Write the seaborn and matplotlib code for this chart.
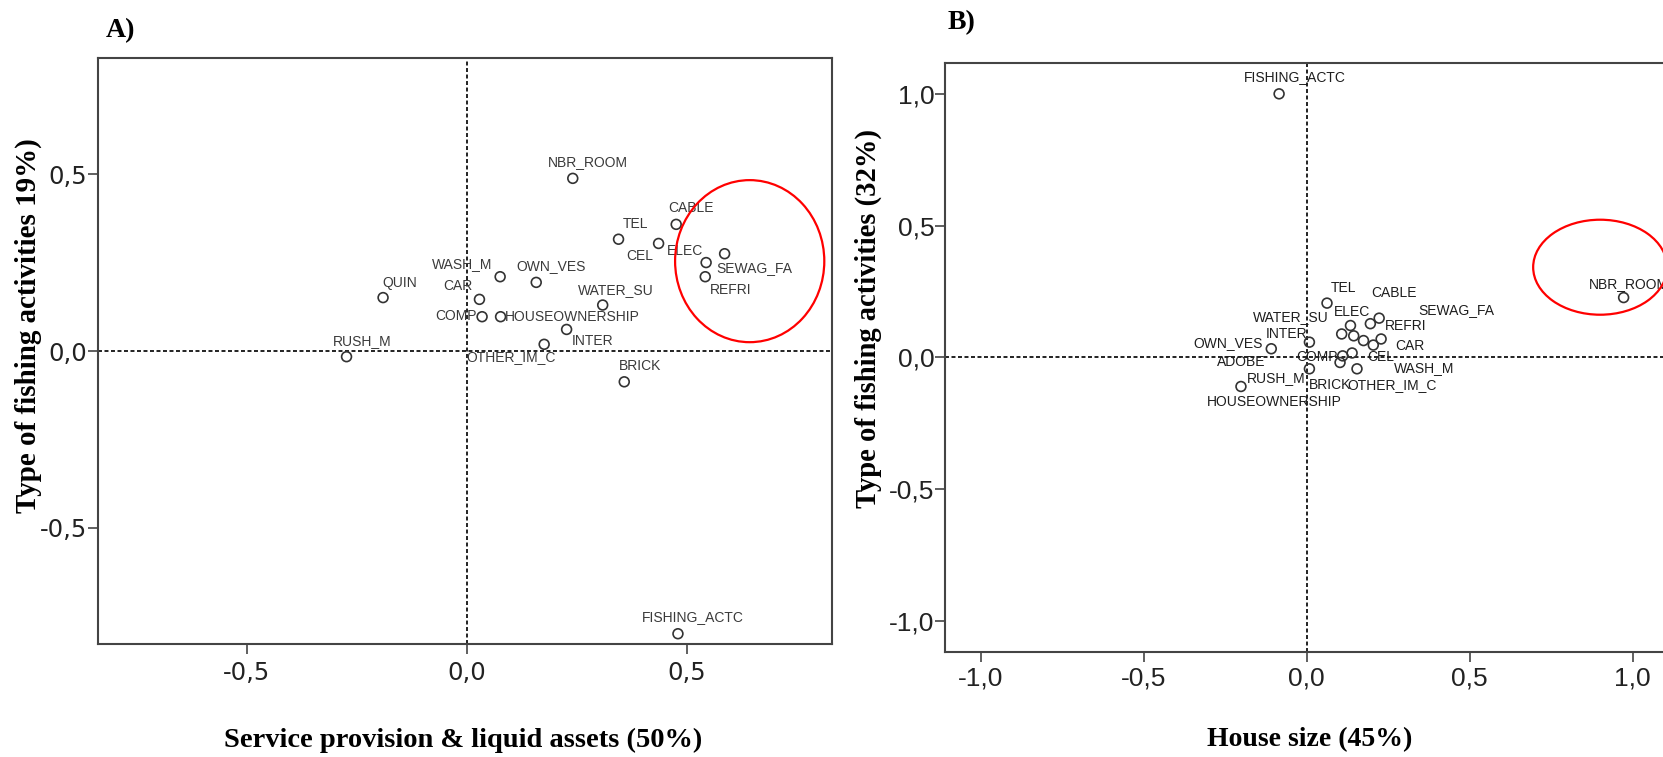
import numpy as np
import pandas as pd
import seaborn as sns
import matplotlib
matplotlib.use("Agg")
import matplotlib.pyplot as plt
from matplotlib.patches import Ellipse

# ---------------- data ----------------
# Panel A: service provision & liquid assets (dim 1) vs type of fishing activities (dim 2)
a_labels = ["NBR_ROOM", "CABLE", "TEL", "CEL", "SEWAG_FA", "ELEC", "REFRI",
            "WASH_M", "OWN_VES", "CAR", "COMP", "HOUSEOWNERSHIP", "WATER_SU",
            "INTER", "OTHER_IM_C", "BRICK", "QUIN", "RUSH_M", "FISHING_ACTC"]
a_x = [0.241, 0.476, 0.345, 0.436, 0.586, 0.544, 0.542,
       0.076, 0.158, 0.029, 0.035, 0.077, 0.309,
       0.227, 0.176, 0.358, -0.190, -0.273, 0.480]
a_y = [0.488, 0.358, 0.316, 0.304, 0.275, 0.250, 0.210,
       0.210, 0.194, 0.146, 0.097, 0.097, 0.130,
       0.061, 0.019, -0.087, 0.151, -0.016, -0.799]

# Panel B: house size (dim 1) vs type of fishing activities (dim 2)
b_labels = ["FISHING_ACTC", "NBR_ROOM", "TEL", "CABLE", "SEWAG_FA", "REFRI",
            "ELEC", "WATER_SU", "CAR", "WASH_M", "CEL", "INTER", "OWN_VES",
            "COMP", "ADOBE", "HOUSEOWNERSHIP", "OTHER_IM_C", "BRICK", "RUSH_M"]
b_x = [-0.085, 0.972, 0.062, 0.222, 0.228, 0.195,
       0.134, 0.107, 0.204, 0.174, 0.144, 0.008, -0.109,
       0.110, 0.139, 0.102, 0.154, 0.008, -0.202]
b_y = [0.999, 0.227, 0.206, 0.149, 0.070, 0.128,
       0.121, 0.089, 0.047, 0.064, 0.082, 0.058, 0.033,
       0.006, 0.017, -0.019, -0.043, -0.043, -0.110]

a_ticks = [-0.5, 0.0, 0.5]
a_ticklabels = ["-0,5", "0,0", "0,5"]
b_ticks = [-1.0, -0.5, 0.0, 0.5, 1.0]
b_ticklabels = ["-1,0", "-0,5", "0,0", "0,5", "1,0"]

# ---------------- layout ----------------
W, H, DPI = 1663, 757, 100

# label offsets (pixels): left edge of text relative to the point, and
# vertical centre of text relative to the point (positive = downwards)
a_offsets = {
    "NBR_ROOM": (-25, -16), "CABLE": (-8, -16), "TEL": (4, -15),
    "CEL": (-32, 13), "SEWAG_FA": (-8, 14), "ELEC": (-39, -12),
    "REFRI": (5, 13), "WASH_M": (-68, -13), "OWN_VES": (-20, -16),
    "CAR": (-36, -13), "COMP": (-47, -1), "HOUSEOWNERSHIP": (4, 0),
    "WATER_SU": (-25, -15), "INTER": (5, 12), "OTHER_IM_C": (-78, 13),
    "BRICK": (-5, -16), "QUIN": (-1, -15), "RUSH_M": (-14, -16),
    "FISHING_ACTC": (-36, -17),
}
b_offsets = {
    "FISHING_ACTC": (-35, -17), "NBR_ROOM": (-35, -14), "TEL": (4, -15),
    "CABLE": (-8, -25), "SEWAG_FA": (37, -29), "REFRI": (15, 2),
    "ELEC": (-17, -14), "WATER_SU": (-89, -17), "CAR": (22, 1),
    "WASH_M": (30, 27), "CEL": (14, 21), "INTER": (-44, -8),
    "OWN_VES": (-78, -6), "COMP": (-46, 1), "ADOBE": (-135, 9),
    "HOUSEOWNERSHIP": (-133, 40), "OTHER_IM_C": (-10, 16), "BRICK": (-1, 16),
    "RUSH_M": (6, -8),
}


def fig_rect(left, top, right, bottom):
    return [left / W, 1 - bottom / H, (right - left) / W, (bottom - top) / H]


sns.set_theme(style="white")
plt.rcParams["font.family"] = ["Liberation Sans", "DejaVu Sans"]

fig = plt.figure(figsize=(W / DPI, H / DPI), dpi=DPI)
fig.patch.set_facecolor("white")

ax_a = fig.add_axes(fig_rect(98.3, 57.7, 832, 644))
ax_b = fig.add_axes(fig_rect(945, 62.7, 1668.6, 651.7))

SPINE = "#444444"


def draw_panel(ax, labels, xs, ys, offsets, xlim, ylim, ticks, ticklabels,
               tick_font, tick_size, text_color, xpad, ypad):
    df = pd.DataFrame({"label": labels, "x": xs, "y": ys})
    ax.axhline(0, color="#111111", lw=1.3, ls=(0, (2.2, 1.4)), zorder=1)
    ax.axvline(0, color="#111111", lw=1.3, ls=(0, (2.2, 1.4)), zorder=1)
    sns.scatterplot(data=df, x="x", y="y", ax=ax, marker="o", s=50,
                    facecolors="none", edgecolor="#333333", linewidth=1.2,
                    legend=False, zorder=3)
    for lab, x, y in zip(df["label"], df["x"], df["y"]):
        dx, dy = offsets[lab]
        ax.annotate(lab, (x, y), xytext=(dx, -dy), textcoords="offset pixels",
                    ha="left", va="center", fontsize=10,
                    family="Liberation Sans", color=text_color, zorder=4)
    ax.set_xlim(*xlim)
    ax.set_ylim(*ylim)
    ax.set_xticks(ticks)
    ax.set_xticklabels(ticklabels, family=tick_font, fontsize=tick_size,
                       color="#222222")
    ax.set_yticks(ticks)
    ax.set_yticklabels(ticklabels, family=tick_font, fontsize=tick_size,
                       color="#222222")
    ax.tick_params(axis="x", direction="out", length=7, width=1.2,
                   color=SPINE, pad=xpad, bottom=True)
    ax.tick_params(axis="y", direction="out", length=7, width=1.2,
                   color=SPINE, pad=ypad, left=True)
    ax.set_xlabel("")
    ax.set_ylabel("")
    for sp in ax.spines.values():
        sp.set_visible(True)
        sp.set_color(SPINE)
        sp.set_linewidth(1.5)


draw_panel(ax_a, a_labels, a_x, a_y, a_offsets, (-0.837, 0.830),
           (-0.828, 0.829), a_ticks, a_ticklabels, "DejaVu Sans", 17.5,
           "#3a3a3a", 5, 1)
draw_panel(ax_b, b_labels, b_x, b_y, b_offsets, (-1.11, 1.11),
           (-1.115, 1.117), b_ticks, b_ticklabels, "Liberation Sans", 19,
           "#1e1e1e", 4, 0.5)

# highlighted clusters
ax_a.add_patch(Ellipse((0.643, 0.254), 0.339, 0.458, fill=False,
                       ec="#ff0000", lw=1.6, zorder=5))
ax_b.add_patch(Ellipse((0.900, 0.342), 0.411, 0.360, fill=False,
                       ec="#ff0000", lw=1.6, zorder=5, clip_on=False))

# panel letters and axis titles
serif = dict(family="Liberation Serif", weight="bold", color="black")
fig.text(106 / W, 1 - 30.5 / H, "A)", ha="left", va="center", fontsize=20, **serif)
fig.text(948 / W, 1 - 23 / H, "B)", ha="left", va="center", fontsize=20, **serif)

fig.text(463 / W, 1 - 740 / H, "Service provision & liquid assets (50%)",
         ha="center", va="center", fontsize=20.5, **serif)
fig.text(1310 / W, 1 - 740 / H, "House size (45%)",
         ha="center", va="center", fontsize=20, **serif)
fig.text(28 / W, 1 - 326 / H, "Type of fishing activities 19%)",
         ha="center", va="center", rotation=90, fontsize=20.9, **serif)
fig.text(868 / W, 1 - 318 / H, "Type of fishing activities (32%)",
         ha="center", va="center", rotation=90, fontsize=20.6, **serif)

fig.savefig("out.png", dpi=DPI, facecolor="white")
